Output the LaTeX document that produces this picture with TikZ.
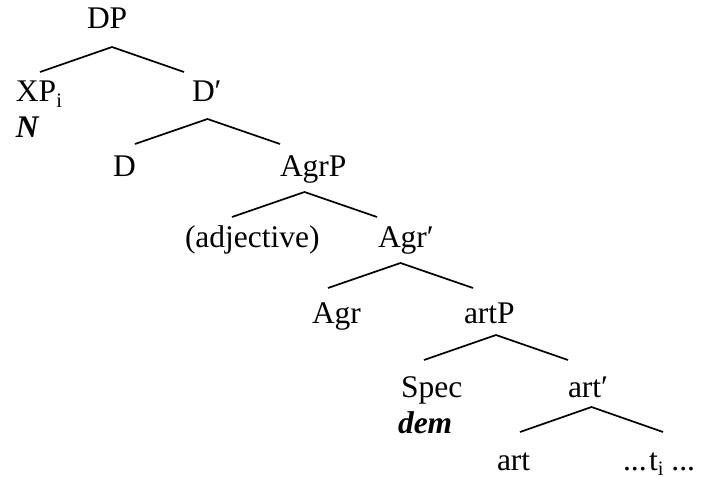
\documentclass[tikz,border=0pt]{standalone}
\usepackage{fontspec}
\setmainfont{Liberation Serif}
\newcommand{\lowidx}[1]{\raisebox{-0.16em}{\fontsize{20.5}{20.5}\selectfont #1}}
\begin{document}
\begin{tikzpicture}[x=1pt,y=1pt,
  lbl/.style={anchor=base west,inner sep=0pt,outer sep=0pt,font=\fontsize{31.5}{36}\selectfont},
  branch/.style={line width=1.7pt}]
\useasboundingbox (0,0) rectangle (701,477);
% labels
\node[lbl] (dp)    at (87,448)  {DP};
\node[lbl] (xp)    at (16,375)  {XP\lowidx{i}};
\node[lbl] (nn)    at (16,339)  {\textbf{\textit{N}}};
\node[lbl] (dbar)  at (192,375) {D′};
\node[lbl] (d)     at (113,300) {D};
\node[lbl] (agrp)  at (280,300) {AgrP};
\node[lbl] (adj)   at (185,229) {(adjective)};
\node[lbl] (agrbar) at (378,229) {Agr′};
\node[lbl] (agr)   at (312,154) {Agr};
\node[lbl] (artp)  at (464,154) {artP};
\node[lbl] (spec)  at (401,80)  {Spec};
\node[lbl] (dem)   at (398,44)  {\textbf{\textit{dem}}};
\node[lbl] (artbar) at (568,80) {art′};
\node[lbl] (art)   at (497,7)   {art};
\node[lbl] (trace) at (623,7)   {...\kern2.5pt t\lowidx{i} ...};
% branching points
\coordinate (dp-a) at (112,430);   \coordinate (dp-l) at (40,405);   \coordinate (dp-r) at (184,405);
\coordinate (db-a) at (207.5,358); \coordinate (db-l) at (135,333);  \coordinate (db-r) at (280,333);
\coordinate (ap-a) at (304.5,285); \coordinate (ap-l) at (232,260);  \coordinate (ap-r) at (377,260);
\coordinate (ab-a) at (400.5,214); \coordinate (ab-l) at (328,189);  \coordinate (ab-r) at (473,189);
\coordinate (rp-a) at (496,142);   \coordinate (rp-l) at (424,117);  \coordinate (rp-r) at (568,117);
\coordinate (rb-a) at (591.5,70);  \coordinate (rb-l) at (520,45);   \coordinate (rb-r) at (663,45);
% branches
\draw[branch] (dp-l) -- (dp-a) -- (dp-r);
\draw[branch] (db-l) -- (db-a) -- (db-r);
\draw[branch] (ap-l) -- (ap-a) -- (ap-r);
\draw[branch] (ab-l) -- (ab-a) -- (ab-r);
\draw[branch] (rp-l) -- (rp-a) -- (rp-r);
\draw[branch] (rb-l) -- (rb-a) -- (rb-r);
\end{tikzpicture}
\end{document}
